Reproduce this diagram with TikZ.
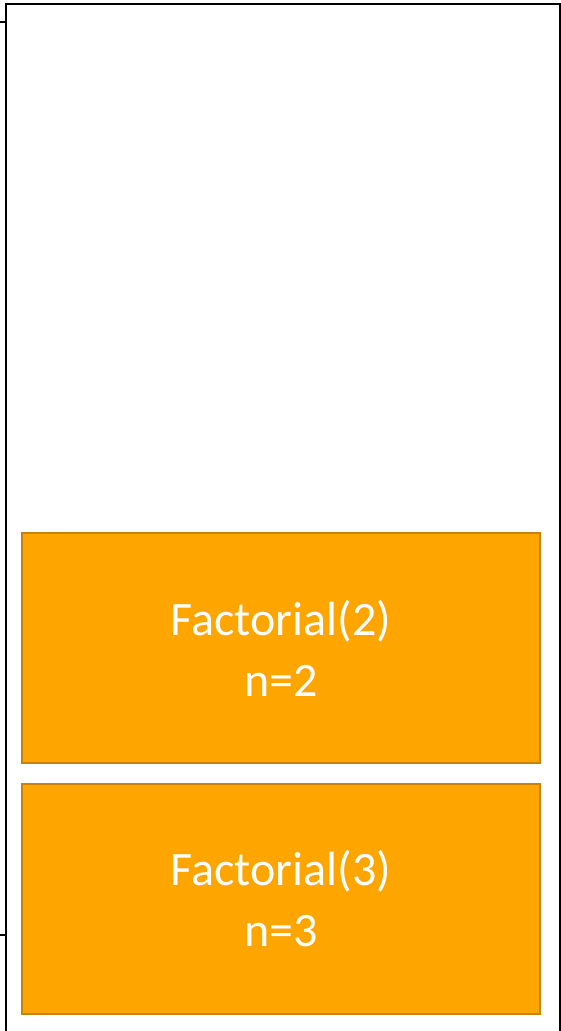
\documentclass[tikz,border=0pt]{standalone}
\usepackage{fontspec}
\setmainfont{Carlito}
\definecolor{frameorange}{HTML}{FFA500}
\definecolor{edgeorange}{HTML}{C8820A}

\tikzset{
    frame/.style={line width=2pt, black},
    callbox/.style={draw=edgeorange, line width=2pt, fill=frameorange,
        minimum width=518pt, minimum height=230pt, inner sep=0pt,
        text=white, align=center, font=\fontsize{48}{61}\selectfont}
}

\begin{document}
\begin{tikzpicture}[x=1pt, y=-1pt]
    \useasboundingbox (0,0) rectangle (561,1031);
    \draw[frame] (5.5,1031) -- (5.5,4) -- (559.5,4) -- (559.5,1031);
    \draw[frame] (0,22) -- (5.5,22);
    \draw[frame] (0,935) -- (5.5,935);
    \node[callbox] (fact2) at (281,648) {Factorial(2)\\n=2};
    \node[callbox] (fact3) at (281,899) {Factorial(3)\\n=3};
\end{tikzpicture}
\end{document}
